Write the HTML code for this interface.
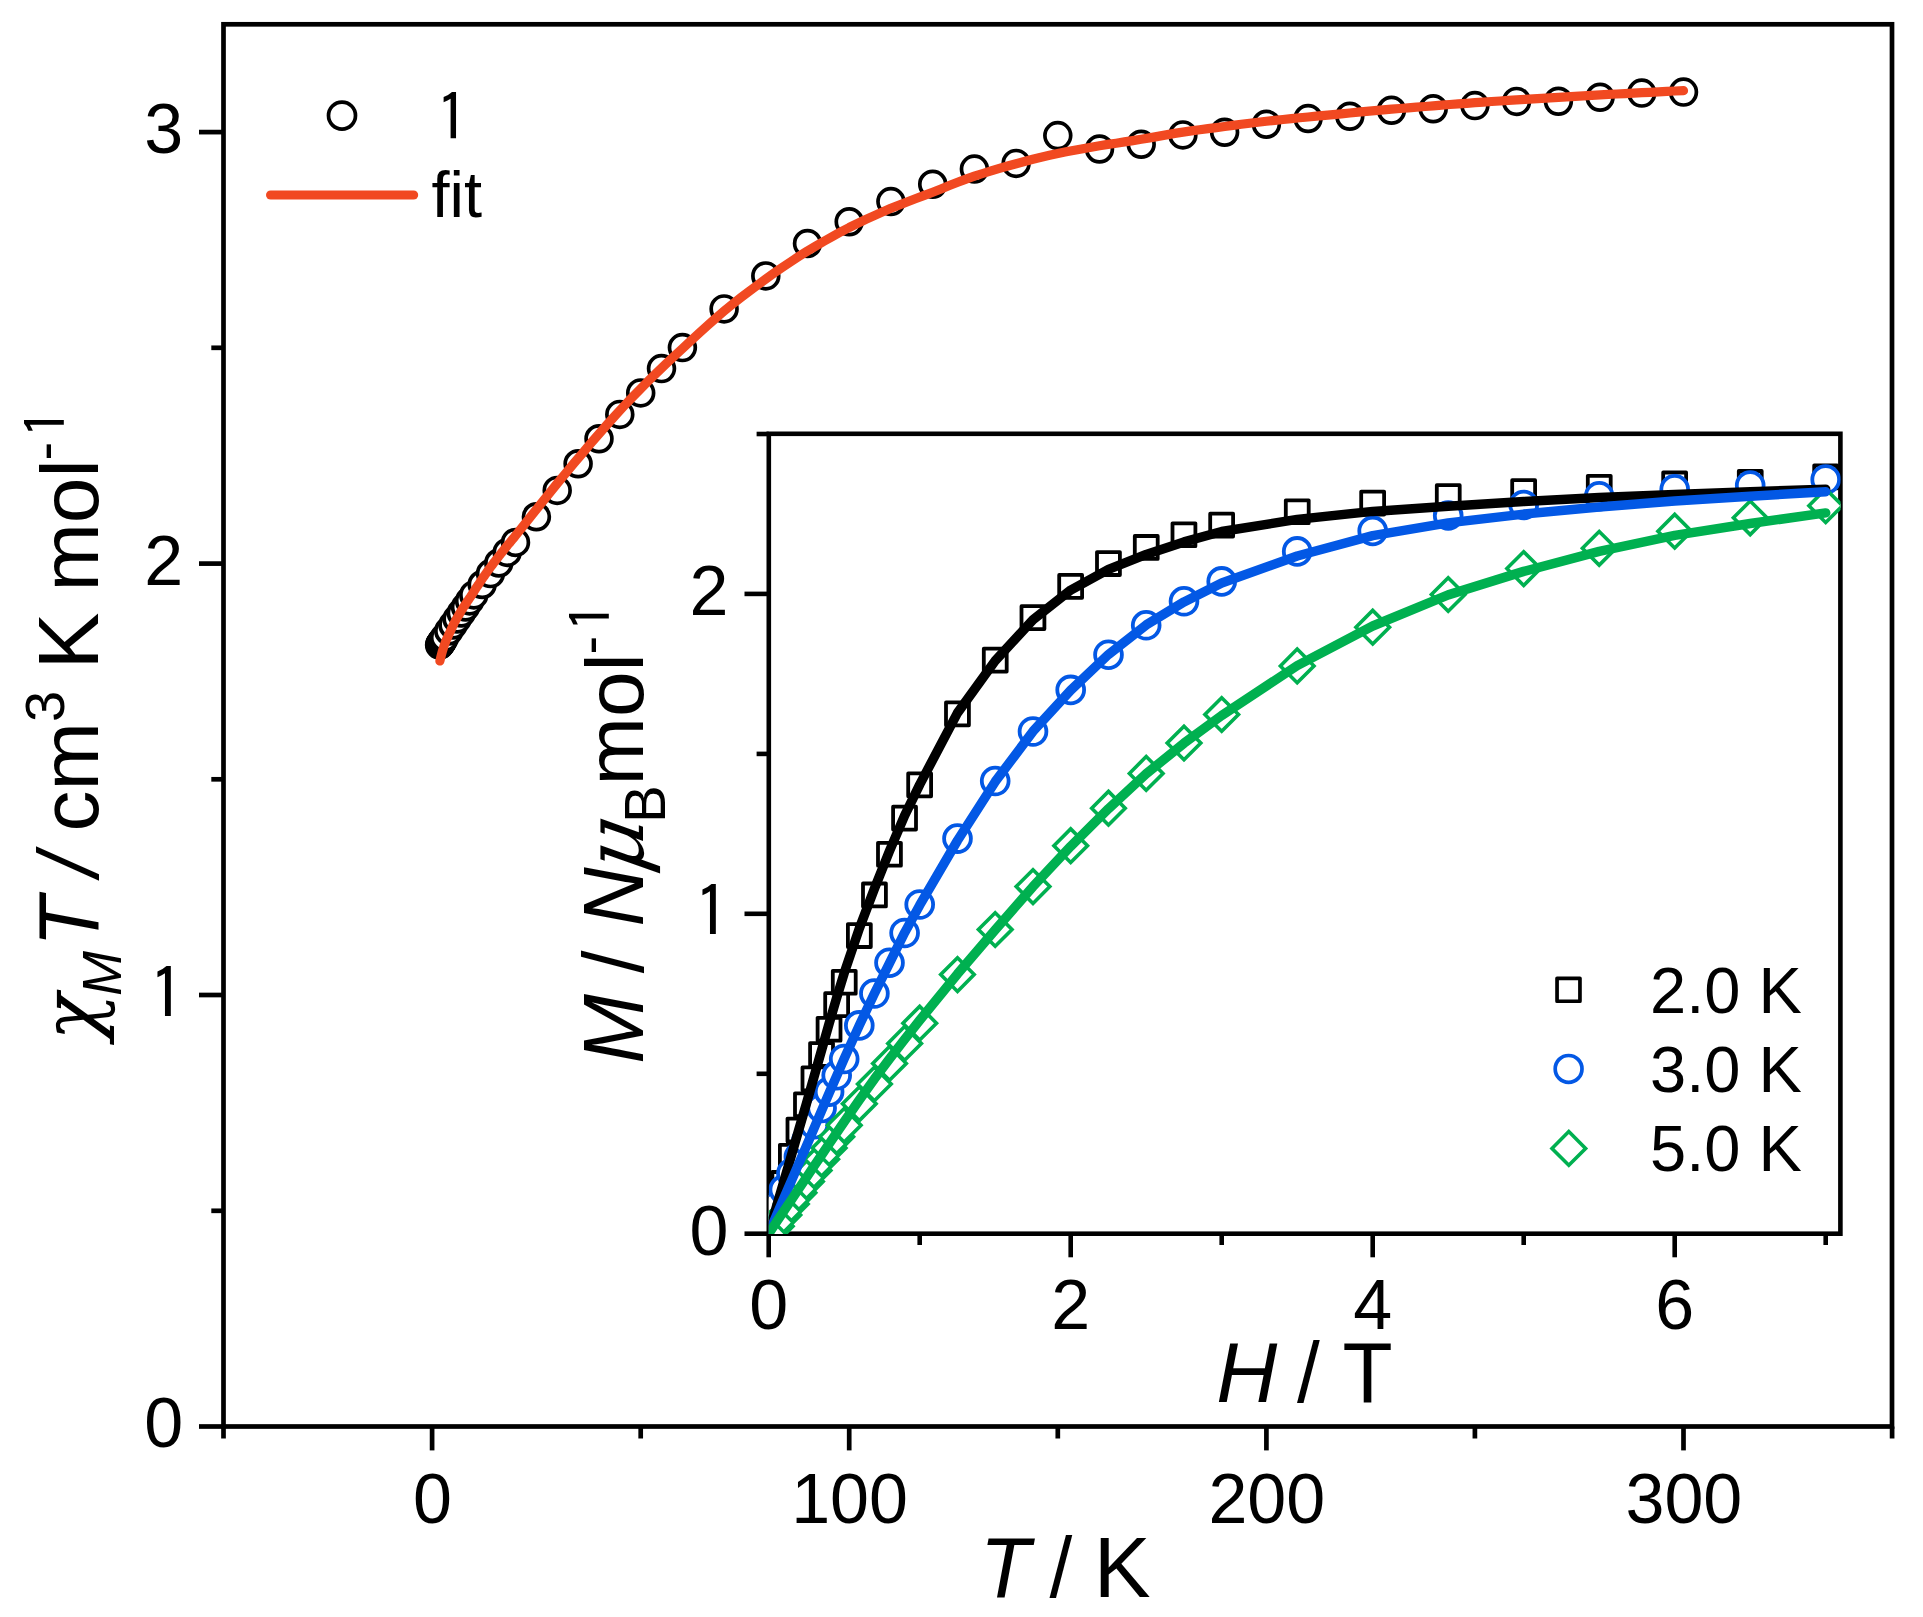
<!DOCTYPE html>
<html lang="en"><head><meta charset="utf-8"><title>chart</title>
<style>html,body{margin:0;padding:0;background:#fff}body{width:1923px;height:1617px;overflow:hidden}</style></head>
<body>
<svg width="1923" height="1617" viewBox="0 0 1923 1617" style="display:block">
<rect x="0" y="0" width="1923" height="1617" fill="#fff"/>
<defs>
<clipPath id="cm"><rect x="223.5" y="24.3" width="1668.5" height="1402.2"/></clipPath>
<clipPath id="ci"><rect x="768.8" y="433.8" width="1071.8" height="800.1000000000001"/></clipPath>
</defs>
<g clip-path="url(#cm)" fill="#fff" stroke="#000" stroke-width="3.7">
<circle cx="439.6" cy="645.0" r="12.9"/>
<circle cx="440.0" cy="644.5" r="12.9"/>
<circle cx="440.4" cy="643.9" r="12.9"/>
<circle cx="440.9" cy="643.2" r="12.9"/>
<circle cx="441.3" cy="642.6" r="12.9"/>
<circle cx="441.7" cy="642.0" r="12.9"/>
<circle cx="442.1" cy="641.5" r="12.9"/>
<circle cx="442.5" cy="640.8" r="12.9"/>
<circle cx="442.9" cy="640.2" r="12.9"/>
<circle cx="444.6" cy="637.5" r="12.9"/>
<circle cx="448.8" cy="631.0" r="12.9"/>
<circle cx="453.0" cy="625.0" r="12.9"/>
<circle cx="457.1" cy="619.0" r="12.9"/>
<circle cx="461.3" cy="613.0" r="12.9"/>
<circle cx="465.5" cy="607.0" r="12.9"/>
<circle cx="469.6" cy="600.9" r="12.9"/>
<circle cx="473.8" cy="594.9" r="12.9"/>
<circle cx="482.2" cy="584.5" r="12.9"/>
<circle cx="490.5" cy="573.6" r="12.9"/>
<circle cx="498.8" cy="563.0" r="12.9"/>
<circle cx="507.2" cy="552.4" r="12.9"/>
<circle cx="515.5" cy="542.4" r="12.9"/>
<circle cx="536.4" cy="516.8" r="12.9"/>
<circle cx="557.2" cy="490.4" r="12.9"/>
<circle cx="578.1" cy="463.8" r="12.9"/>
<circle cx="599.0" cy="438.8" r="12.9"/>
<circle cx="619.8" cy="414.4" r="12.9"/>
<circle cx="640.7" cy="392.9" r="12.9"/>
<circle cx="661.5" cy="368.6" r="12.9"/>
<circle cx="682.4" cy="347.6" r="12.9"/>
<circle cx="724.1" cy="308.9" r="12.9"/>
<circle cx="765.8" cy="275.9" r="12.9"/>
<circle cx="807.5" cy="243.5" r="12.9"/>
<circle cx="849.2" cy="221.8" r="12.9"/>
<circle cx="890.9" cy="201.6" r="12.9"/>
<circle cx="932.7" cy="184.3" r="12.9"/>
<circle cx="974.4" cy="169.1" r="12.9"/>
<circle cx="1016.1" cy="163.4" r="12.9"/>
<circle cx="1057.8" cy="135.6" r="12.9"/>
<circle cx="1099.5" cy="149.0" r="12.9"/>
<circle cx="1141.2" cy="144.3" r="12.9"/>
<circle cx="1182.9" cy="134.9" r="12.9"/>
<circle cx="1224.6" cy="132.2" r="12.9"/>
<circle cx="1266.4" cy="124.3" r="12.9"/>
<circle cx="1308.1" cy="118.5" r="12.9"/>
<circle cx="1349.8" cy="116.2" r="12.9"/>
<circle cx="1391.5" cy="110.2" r="12.9"/>
<circle cx="1433.2" cy="108.8" r="12.9"/>
<circle cx="1474.9" cy="105.6" r="12.9"/>
<circle cx="1516.6" cy="101.4" r="12.9"/>
<circle cx="1558.4" cy="101.2" r="12.9"/>
<circle cx="1600.1" cy="97.2" r="12.9"/>
<circle cx="1641.8" cy="93.1" r="12.9"/>
<circle cx="1683.5" cy="92.1" r="12.9"/>
</g>
<path d="M439.9,661.0 L441.2,655.6 L442.5,650.8 L443.8,646.6 L445.1,643.1 L446.3,640.0 L447.6,637.2 L448.9,634.4 L450.2,631.6 L451.5,628.8 L452.8,626.1 L454.0,623.5 L455.3,621.0 L456.6,618.7 L457.9,616.5 L459.2,614.3 L460.4,612.2 L461.7,610.1 L463.0,608.1 L464.3,606.1 L465.6,604.2 L466.8,602.3 L468.1,600.3 L469.4,598.4 L470.7,596.5 L472.0,594.5 L473.3,592.5 L474.5,590.6 L475.8,588.6 L477.1,586.6 L478.4,584.7 L479.7,582.7 L480.9,580.8 L482.2,578.9 L483.5,577.0 L484.8,575.2 L486.1,573.3 L487.3,571.5 L488.6,569.8 L489.9,568.0 L491.2,566.3 L492.5,564.6 L493.7,562.9 L495.0,561.2 L496.3,559.5 L497.6,557.9 L498.9,556.2 L500.2,554.6 L501.4,553.0 L502.7,551.4 L504.0,549.7 L505.3,548.1 L506.6,546.5 L507.8,545.0 L509.1,543.4 L510.4,541.9 L511.7,540.3 L513.0,538.8 L514.2,537.3 L515.5,535.7 L523.9,525.2 L532.2,514.7 L540.6,504.2 L548.9,493.8 L557.2,483.5 L565.6,473.3 L573.9,463.3 L582.3,453.4 L590.6,443.5 L599.0,433.9 L607.3,424.4 L615.6,415.1 L624.0,406.0 L632.3,397.3 L640.7,388.7 L649.0,380.3 L657.4,372.1 L665.7,364.1 L674.0,356.3 L682.4,348.6 L690.7,340.9 L699.1,333.2 L707.4,325.6 L715.7,318.2 L724.1,311.1 L732.4,304.3 L740.8,297.7 L749.1,291.3 L757.5,285.1 L765.8,279.0 L774.1,273.1 L782.5,267.3 L790.8,261.7 L799.2,256.2 L807.5,251.0 L815.9,246.0 L824.2,241.1 L832.5,236.4 L840.9,231.8 L849.2,227.5 L857.6,223.4 L865.9,219.4 L874.3,215.6 L882.6,211.9 L890.9,208.3 L899.3,204.9 L907.6,201.7 L916.0,198.5 L924.3,195.4 L932.7,192.2 L941.0,188.9 L949.3,185.6 L957.7,182.3 L966.0,179.1 L974.4,176.2 L982.7,173.5 L991.1,170.9 L999.4,168.4 L1007.7,166.0 L1016.1,163.7 L1024.4,161.5 L1032.8,159.3 L1041.1,157.3 L1049.5,155.3 L1057.8,153.5 L1066.1,151.8 L1074.5,150.2 L1082.8,148.7 L1091.2,147.2 L1099.5,145.8 L1107.9,144.4 L1116.2,143.2 L1124.5,141.9 L1132.9,140.6 L1141.2,139.3 L1149.6,137.9 L1157.9,136.4 L1166.2,134.9 L1174.6,133.4 L1182.9,132.1 L1191.3,130.9 L1199.6,129.7 L1208.0,128.6 L1216.3,127.6 L1224.6,126.5 L1233.0,125.4 L1241.3,124.3 L1249.7,123.3 L1258.0,122.3 L1266.4,121.3 L1274.7,120.4 L1283.0,119.5 L1291.4,118.7 L1299.7,117.8 L1308.1,117.0 L1316.4,116.2 L1324.8,115.4 L1333.1,114.6 L1341.4,113.8 L1349.8,113.0 L1358.1,112.2 L1366.5,111.4 L1374.8,110.7 L1383.2,109.9 L1391.5,109.2 L1399.8,108.5 L1408.2,107.8 L1416.5,107.1 L1424.9,106.5 L1433.2,105.8 L1441.6,105.2 L1449.9,104.5 L1458.2,103.9 L1466.6,103.3 L1474.9,102.7 L1483.3,102.1 L1491.6,101.5 L1500.0,101.0 L1508.3,100.4 L1516.6,99.9 L1525.0,99.4 L1533.3,98.8 L1541.7,98.3 L1550.0,97.8 L1558.4,97.3 L1566.7,96.8 L1575.0,96.3 L1583.4,95.8 L1591.7,95.4 L1600.1,94.9 L1608.4,94.4 L1616.7,94.0 L1625.1,93.6 L1633.4,93.1 L1641.8,92.7 L1650.1,92.3 L1658.5,91.8 L1666.8,91.4 L1675.1,91.0 L1683.5,90.6" fill="none" stroke="#F14921" stroke-width="9.2" stroke-linecap="round" stroke-linejoin="round"/>
<g stroke="#000" stroke-width="4.7" fill="none">
<rect x="223.5" y="24.3" width="1668.5" height="1402.2"/>
<line x1="432.1" y1="1426.5" x2="432.1" y2="1450.4"/>
<line x1="199" y1="1426.5" x2="223.5" y2="1426.5"/>
<line x1="849.2" y1="1426.5" x2="849.2" y2="1450.4"/>
<line x1="199" y1="995.0" x2="223.5" y2="995.0"/>
<line x1="1266.4" y1="1426.5" x2="1266.4" y2="1450.4"/>
<line x1="199" y1="563.6" x2="223.5" y2="563.6"/>
<line x1="1683.5" y1="1426.5" x2="1683.5" y2="1450.4"/>
<line x1="199" y1="132.1" x2="223.5" y2="132.1"/>
<line x1="223.5" y1="1426.5" x2="223.5" y2="1438.5"/>
<line x1="640.7" y1="1426.5" x2="640.7" y2="1438.5"/>
<line x1="1057.8" y1="1426.5" x2="1057.8" y2="1438.5"/>
<line x1="1474.9" y1="1426.5" x2="1474.9" y2="1438.5"/>
<line x1="1892.1" y1="1426.5" x2="1892.1" y2="1438.5"/>
<line x1="211.3" y1="1210.8" x2="223.5" y2="1210.8"/>
<line x1="211.3" y1="779.3" x2="223.5" y2="779.3"/>
<line x1="211.3" y1="347.8" x2="223.5" y2="347.8"/>
</g>
<g stroke="#000" stroke-width="4.6" fill="none">
<rect x="768.8" y="433.8" width="1071.6000000000001" height="799.9000000000001"/>
<line x1="768.7" y1="1233.7" x2="768.7" y2="1257.3"/>
<line x1="1070.7" y1="1233.7" x2="1070.7" y2="1257.3"/>
<line x1="1372.7" y1="1233.7" x2="1372.7" y2="1257.3"/>
<line x1="1674.7" y1="1233.7" x2="1674.7" y2="1257.3"/>
<line x1="919.7" y1="1233.7" x2="919.7" y2="1245"/>
<line x1="1221.7" y1="1233.7" x2="1221.7" y2="1245"/>
<line x1="1523.7" y1="1233.7" x2="1523.7" y2="1245"/>
<line x1="1825.7" y1="1233.7" x2="1825.7" y2="1245"/>
<line x1="744.5" y1="1233.7" x2="768.8" y2="1233.7"/>
<line x1="744.5" y1="913.8" x2="768.8" y2="913.8"/>
<line x1="744.5" y1="593.9" x2="768.8" y2="593.9"/>
<line x1="756.6" y1="1073.8" x2="768.8" y2="1073.8"/>
<line x1="756.6" y1="753.9" x2="768.8" y2="753.9"/>
<line x1="756.6" y1="434.0" x2="768.8" y2="434.0"/>
</g>
<g clip-path="url(#ci)" fill="#fff" stroke-width="3.8">
<g stroke="#000" stroke-linejoin="round">
<rect x="764.8" y="1198.3" width="22.9" height="22.9"/>
<rect x="772.4" y="1172.0" width="22.9" height="22.9"/>
<rect x="779.9" y="1144.8" width="22.9" height="22.9"/>
<rect x="787.5" y="1118.6" width="22.9" height="22.9"/>
<rect x="795.0" y="1093.3" width="22.9" height="22.9"/>
<rect x="802.5" y="1067.4" width="22.9" height="22.9"/>
<rect x="810.1" y="1043.1" width="22.9" height="22.9"/>
<rect x="817.6" y="1017.8" width="22.9" height="22.9"/>
<rect x="825.2" y="993.2" width="22.9" height="22.9"/>
<rect x="832.8" y="970.8" width="22.9" height="22.9"/>
<rect x="847.9" y="924.1" width="22.9" height="22.9"/>
<rect x="863.0" y="883.5" width="22.9" height="22.9"/>
<rect x="878.0" y="842.8" width="22.9" height="22.9"/>
<rect x="893.1" y="806.7" width="22.9" height="22.9"/>
<rect x="908.2" y="773.4" width="22.9" height="22.9"/>
<rect x="946.0" y="702.4" width="22.9" height="22.9"/>
<rect x="983.8" y="648.7" width="22.9" height="22.9"/>
<rect x="1021.5" y="606.2" width="22.9" height="22.9"/>
<rect x="1059.2" y="574.9" width="22.9" height="22.9"/>
<rect x="1097.0" y="552.1" width="22.9" height="22.9"/>
<rect x="1134.8" y="536.0" width="22.9" height="22.9"/>
<rect x="1172.5" y="523.3" width="22.9" height="22.9"/>
<rect x="1210.2" y="513.7" width="22.9" height="22.9"/>
<rect x="1285.8" y="500.3" width="22.9" height="22.9"/>
<rect x="1361.2" y="491.6" width="22.9" height="22.9"/>
<rect x="1436.8" y="485.2" width="22.9" height="22.9"/>
<rect x="1512.2" y="480.2" width="22.9" height="22.9"/>
<rect x="1587.8" y="475.8" width="22.9" height="22.9"/>
<rect x="1663.2" y="472.5" width="22.9" height="22.9"/>
<rect x="1738.8" y="471.0" width="22.9" height="22.9"/>
<rect x="1814.2" y="465.5" width="22.9" height="22.9"/>
</g>
<g stroke="#0358E5">
<circle cx="776.2" cy="1205.9" r="13.4"/>
<circle cx="783.8" cy="1189.6" r="13.4"/>
<circle cx="791.4" cy="1173.2" r="13.4"/>
<circle cx="798.9" cy="1156.9" r="13.4"/>
<circle cx="806.5" cy="1140.6" r="13.4"/>
<circle cx="814.0" cy="1124.3" r="13.4"/>
<circle cx="821.6" cy="1108.0" r="13.4"/>
<circle cx="829.1" cy="1091.7" r="13.4"/>
<circle cx="836.7" cy="1075.3" r="13.4"/>
<circle cx="844.2" cy="1059.0" r="13.4"/>
<circle cx="859.3" cy="1025.4" r="13.4"/>
<circle cx="874.4" cy="993.5" r="13.4"/>
<circle cx="889.5" cy="962.7" r="13.4"/>
<circle cx="904.6" cy="933.0" r="13.4"/>
<circle cx="919.7" cy="904.5" r="13.4"/>
<circle cx="957.5" cy="838.6" r="13.4"/>
<circle cx="995.2" cy="781.0" r="13.4"/>
<circle cx="1033.0" cy="731.5" r="13.4"/>
<circle cx="1070.7" cy="689.9" r="13.4"/>
<circle cx="1108.5" cy="654.7" r="13.4"/>
<circle cx="1146.2" cy="625.3" r="13.4"/>
<circle cx="1184.0" cy="601.3" r="13.4"/>
<circle cx="1221.7" cy="581.4" r="13.4"/>
<circle cx="1297.2" cy="551.4" r="13.4"/>
<circle cx="1372.7" cy="530.9" r="13.4"/>
<circle cx="1448.2" cy="515.5" r="13.4"/>
<circle cx="1523.7" cy="505.0" r="13.4"/>
<circle cx="1599.2" cy="496.2" r="13.4"/>
<circle cx="1674.7" cy="489.3" r="13.4"/>
<circle cx="1750.2" cy="485.5" r="13.4"/>
<circle cx="1825.7" cy="479.5" r="13.4"/>
</g>
<g stroke="#00B050" stroke-width="3.6">
<path d="M759.5,1226.3 L776.2,1209.5 L793.0,1226.3 L776.2,1243.1Z"/>
<path d="M767.0,1215.1 L783.8,1198.3 L800.6,1215.1 L783.8,1231.9Z"/>
<path d="M774.6,1203.9 L791.4,1187.1 L808.1,1203.9 L791.4,1220.7Z"/>
<path d="M782.1,1192.8 L798.9,1176.0 L815.7,1192.8 L798.9,1209.6Z"/>
<path d="M789.7,1181.6 L806.5,1164.8 L823.2,1181.6 L806.5,1198.4Z"/>
<path d="M797.2,1170.4 L814.0,1153.6 L830.8,1170.4 L814.0,1187.2Z"/>
<path d="M804.8,1159.2 L821.6,1142.4 L838.4,1159.2 L821.6,1176.0Z"/>
<path d="M812.3,1148.0 L829.1,1131.2 L845.9,1148.0 L829.1,1164.8Z"/>
<path d="M819.9,1136.8 L836.7,1120.0 L853.5,1136.8 L836.7,1153.6Z"/>
<path d="M827.4,1125.3 L844.2,1108.5 L861.0,1125.3 L844.2,1142.1Z"/>
<path d="M842.5,1103.8 L859.3,1087.0 L876.1,1103.8 L859.3,1120.6Z"/>
<path d="M857.6,1084.0 L874.4,1067.2 L891.2,1084.0 L874.4,1100.8Z"/>
<path d="M872.7,1063.4 L889.5,1046.6 L906.3,1063.4 L889.5,1080.2Z"/>
<path d="M887.8,1043.4 L904.6,1026.6 L921.4,1043.4 L904.6,1060.2Z"/>
<path d="M902.9,1023.2 L919.7,1006.4 L936.5,1023.2 L919.7,1040.0Z"/>
<path d="M940.7,974.6 L957.5,957.8 L974.2,974.6 L957.5,991.4Z"/>
<path d="M978.4,929.5 L995.2,912.7 L1012.0,929.5 L995.2,946.3Z"/>
<path d="M1016.2,886.6 L1033.0,869.8 L1049.8,886.6 L1033.0,903.4Z"/>
<path d="M1053.9,845.7 L1070.7,828.9 L1087.5,845.7 L1070.7,862.5Z"/>
<path d="M1091.7,808.2 L1108.5,791.4 L1125.2,808.2 L1108.5,825.0Z"/>
<path d="M1129.4,773.4 L1146.2,756.6 L1163.0,773.4 L1146.2,790.2Z"/>
<path d="M1167.2,743.0 L1184.0,726.2 L1200.8,743.0 L1184.0,759.8Z"/>
<path d="M1204.9,714.5 L1221.7,697.7 L1238.5,714.5 L1221.7,731.3Z"/>
<path d="M1280.4,665.9 L1297.2,649.1 L1314.0,665.9 L1297.2,682.7Z"/>
<path d="M1355.9,627.2 L1372.7,610.4 L1389.5,627.2 L1372.7,644.0Z"/>
<path d="M1431.4,594.5 L1448.2,577.7 L1465.0,594.5 L1448.2,611.3Z"/>
<path d="M1506.9,568.6 L1523.7,551.8 L1540.5,568.6 L1523.7,585.4Z"/>
<path d="M1582.4,548.3 L1599.2,531.5 L1616.0,548.3 L1599.2,565.1Z"/>
<path d="M1657.9,531.2 L1674.7,514.4 L1691.5,531.2 L1674.7,548.0Z"/>
<path d="M1733.4,517.8 L1750.2,501.0 L1767.0,517.8 L1750.2,534.6Z"/>
<path d="M1808.9,505.7 L1825.7,488.9 L1842.5,505.7 L1825.7,522.5Z"/>
</g>
</g>
<g clip-path="url(#ci)" fill="none" stroke-width="9.5" stroke-linecap="round" stroke-linejoin="round">
<path d="M768.7,1233.7 L776.2,1207.6 L783.8,1181.5 L791.4,1155.5 L798.9,1129.4 L806.5,1103.3 L814.0,1076.9 L821.6,1050.1 L829.1,1023.6 L836.7,997.7 L844.2,973.1 L859.3,928.5 L874.4,888.8 L889.5,851.1 L904.6,815.6 L919.7,784.6 L957.5,712.9 L995.2,660.8 L1033.0,619.7 L1070.7,590.1 L1108.5,569.3 L1146.2,554.4 L1184.0,541.9 L1221.7,531.5 L1297.2,519.4 L1372.7,511.4 L1448.2,506.2 L1523.7,501.6 L1599.2,497.6 L1674.7,494.4 L1750.2,491.7 L1825.7,489.3" stroke="#000"/>
<path d="M768.7,1233.7 L776.2,1216.1 L783.8,1198.5 L791.4,1180.9 L798.9,1163.4 L806.5,1145.9 L814.0,1128.3 L821.6,1110.7 L829.1,1093.2 L836.7,1075.8 L844.2,1058.7 L859.3,1025.4 L874.4,993.5 L889.5,963.1 L904.6,932.7 L919.7,905.2 L957.5,840.5 L995.2,781.7 L1033.0,731.3 L1070.7,690.2 L1108.5,654.4 L1146.2,624.9 L1184.0,601.9 L1221.7,583.0 L1297.2,556.0 L1372.7,535.6 L1448.2,522.9 L1523.7,514.1 L1599.2,507.0 L1674.7,501.1 L1750.2,496.2 L1825.7,491.7" stroke="#0358E5"/>
<path d="M768.7,1233.7 L776.2,1222.4 L783.8,1211.1 L791.4,1199.8 L798.9,1188.6 L806.5,1177.4 L814.0,1166.2 L821.6,1155.0 L829.1,1143.8 L836.7,1132.7 L844.2,1121.7 L859.3,1100.0 L874.4,1078.9 L889.5,1058.8 L904.6,1039.4 L919.7,1020.3 L957.5,973.9 L995.2,929.8 L1033.0,886.6 L1070.7,846.3 L1108.5,808.7 L1146.2,773.8 L1184.0,743.2 L1221.7,715.5 L1297.2,665.6 L1372.7,626.0 L1448.2,594.9 L1523.7,571.4 L1599.2,551.4 L1674.7,535.4 L1750.2,523.5 L1825.7,512.9" stroke="#00B050"/>
</g>
<g font-family="Liberation Sans, Arial, sans-serif" fill="#000" font-size="70">
<text x="183.3" y="1447.4" text-anchor="end">0</text>
<text x="432.5" y="1522.5" text-anchor="middle">0</text>
<text x="849.6" y="1522.5" text-anchor="middle">100</text>
<text x="183.3" y="584.5" text-anchor="end">2</text>
<text x="1266.8" y="1522.5" text-anchor="middle">200</text>
<text x="183.3" y="153.0" text-anchor="end">3</text>
<text x="1683.9" y="1522.5" text-anchor="middle">300</text>
<text x="728.5" y="1254.7" text-anchor="end">0</text>
<text x="728.5" y="614.9" text-anchor="end">2</text>
<text x="768.7" y="1329.2" text-anchor="middle">0</text>
<text x="1070.7" y="1329.2" text-anchor="middle">2</text>
<text x="1372.7" y="1329.2" text-anchor="middle">4</text>
<text x="1674.7" y="1329.2" text-anchor="middle">6</text>
</g>
<g fill="#000">
<text x="148.9" y="1019.6" font-family="IPAGothic, Liberation Sans, sans-serif" font-size="71.58">1</text>
<text x="694.1" y="938.4" font-family="IPAGothic, Liberation Sans, sans-serif" font-size="71.58">1</text>
<text x="435.7" y="141.6" font-family="IPAGothic, Liberation Sans, sans-serif" font-size="66.47">1</text>
<text transform="translate(66.8,437.4) rotate(-90)" font-family="IPAGothic, Liberation Sans, sans-serif" font-size="57.27">1</text>
<text transform="translate(611.9,631.3) rotate(-90)" font-family="IPAGothic, Liberation Sans, sans-serif" font-size="57.27">1</text>
</g>
<g font-family="Liberation Sans, Arial, sans-serif" fill="#000" font-size="65">
<text x="431.5" y="217">fit</text>
<text x="1650" y="1012.8">2.0 K</text>
<text x="1650" y="1091.9">3.0 K</text>
<text x="1650" y="1171.4">5.0 K</text>
</g>
<circle cx="342" cy="115.6" r="13.5" fill="none" stroke="#000" stroke-width="3.7"/>
<line x1="270.6" y1="195" x2="413.6" y2="195" stroke="#F14921" stroke-width="9.2" stroke-linecap="round"/>
<rect x="1557.05" y="978.35" width="22.9" height="22.9" fill="none" stroke="#000" stroke-width="3.7" stroke-linejoin="round"/>
<circle cx="1568.6" cy="1068.9" r="13.4" fill="none" stroke="#0358E5" stroke-width="3.7"/>
<path d="M1552.0,1148.4 L1568.8,1131.6000000000001 L1585.6,1148.4 L1568.8,1165.2Z" fill="none" stroke="#00B050" stroke-width="3.6"/>
<g fill="#000">
<text transform="translate(980.0,1596.5) scale(1,1.04)" font-family="Liberation Sans, Arial, sans-serif" font-style="italic" font-size="82">T</text>
<text transform="translate(1049.6,1596.5) scale(1,1.04)" font-family="Liberation Sans, Arial, sans-serif" font-style="normal" font-size="82">/</text>
<text transform="translate(1093.8,1596.5) scale(1.04,1.04)" font-family="Liberation Sans, Arial, sans-serif" font-style="normal" font-size="82">K</text>
<text transform="translate(1216.2,1402.0) scale(1.03,1.04)" font-family="Liberation Sans, Arial, sans-serif" font-style="italic" font-size="82">H</text>
<text transform="translate(1297.1,1402.0) scale(1,1.04)" font-family="Liberation Sans, Arial, sans-serif" font-style="normal" font-size="82">/</text>
<text transform="translate(1342.4,1402.0) scale(1,1.04)" font-family="Liberation Sans, Arial, sans-serif" font-style="normal" font-size="82">T</text>
<text transform="translate(97.8,1040.4) rotate(-90)" font-family="DejaVu Serif, Liberation Serif, serif" font-style="italic" font-size="78">χ</text>
<text transform="translate(120.5,996.1) rotate(-90) scale(1,1.04)" font-family="Liberation Sans, Arial, sans-serif" font-style="italic" font-size="54">M</text>
<text transform="translate(97.8,946.8) rotate(-90) scale(1,1.04)" font-family="Liberation Sans, Arial, sans-serif" font-style="italic" font-size="82">T</text>
<text transform="translate(97.8,876.0) rotate(-90) scale(1,1.04)" font-family="Liberation Sans, Arial, sans-serif" font-style="italic" font-size="82">/</text>
<text transform="translate(97.8,831.6) rotate(-90)" font-family="Liberation Sans, Arial, sans-serif" font-style="normal" font-size="82">cm</text>
<text transform="translate(63.9,722.1) rotate(-90)" font-family="Liberation Sans, Arial, sans-serif" font-style="normal" font-size="56">3</text>
<text transform="translate(97.8,669.6) rotate(-90) scale(1.04,1.04)" font-family="Liberation Sans, Arial, sans-serif" font-style="normal" font-size="82">K</text>
<text transform="translate(97.8,591.5) rotate(-90)" font-family="Liberation Sans, Arial, sans-serif" font-style="normal" font-size="82">mol</text>
<text transform="translate(63.9,460.5) rotate(-90)" font-family="Liberation Sans, Arial, sans-serif" font-style="normal" font-size="56">-</text>
<text transform="translate(643.0,1063.8) rotate(-90) scale(1.02,1.04)" font-family="Liberation Sans, Arial, sans-serif" font-style="italic" font-size="82">M</text>
<text transform="translate(643.0,973.3) rotate(-90) scale(1,1.04)" font-family="Liberation Sans, Arial, sans-serif" font-style="normal" font-size="82">/</text>
<text transform="translate(643.0,926.4) rotate(-90) scale(1,1.04)" font-family="Liberation Sans, Arial, sans-serif" font-style="italic" font-size="82">N</text>
<text transform="translate(643.0,874.6) rotate(-90) skewX(-9)" font-family="DejaVu Serif, Liberation Serif, serif" font-style="italic" font-size="82">μ</text>
<text transform="translate(664.9,822.8) rotate(-90) scale(1,1.04)" font-family="Liberation Sans, Arial, sans-serif" font-style="normal" font-size="56">B</text>
<text transform="translate(643.0,785.4) rotate(-90)" font-family="Liberation Sans, Arial, sans-serif" font-style="normal" font-size="82">mol</text>
<text transform="translate(609.0,654.4) rotate(-90)" font-family="Liberation Sans, Arial, sans-serif" font-style="normal" font-size="56">-</text>
</g>
</svg>
</body></html>
